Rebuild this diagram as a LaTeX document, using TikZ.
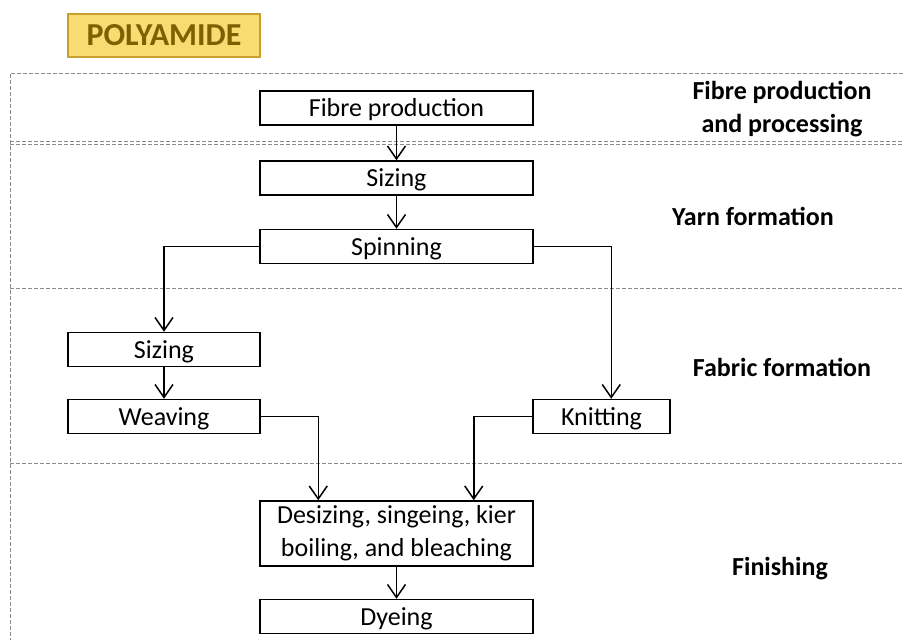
\documentclass[tikz,border=0pt]{standalone}
\usepackage{fontspec}
\setmainfont{Carlito}
\usetikzlibrary{arrows.meta,calc}

\definecolor{titlefill}{HTML}{F8DC72}
\definecolor{titleline}{HTML}{C9A030}
\definecolor{titletext}{HTML}{7F6000}
\definecolor{sectline}{HTML}{8C8C8C}

\begin{document}
\begin{tikzpicture}[x=0.5pt,y=-0.5pt,
	basebox/.style={draw,line width=0.75pt,inner sep=0pt,minimum width=136.5pt,minimum height=17pt,font=\fontsize{13}{16.5}\selectfont},
	stepbox/.style={basebox,text height=9pt,text depth=0.5pt},
	sidebox/.style={stepbox,minimum width=96pt},
	sectlabel/.style={font=\fontsize{13}{16.5}\selectfont\bfseries,align=center},
	sect/.style={sectline,line width=0.5pt,dash pattern=on 2pt off 1pt},
	flow/.style={line width=0.75pt,-{Straight Barb[length=6.5pt,width=9pt,line width=0.75pt]}}]
	\useasboundingbox (0,0) rectangle (904,639);
	% sections
	\draw[sect] (10,660) -- (10,73) -- (920,73);
	\draw[sect] (10,141) -- (920,141);
	\draw[sect] (10,144.5) -- (920,144.5);
	\draw[sect] (10,288) -- (920,288);
	\draw[sect] (10,463) -- (920,463);
	\node[sectlabel] (lfib) at (782,109) {Fibre production\\and processing};
	\node[sectlabel] (lyarn) at (753,216) {Yarn formation};
	\node[sectlabel] (lfab) at (782,367) {Fabric formation};
	\node[sectlabel] (lfin) at (780,569) {Finishing};
	% title
	\node[draw=titleline,fill=titlefill,line width=0.8pt,text=titletext,font=\fontsize{16}{19}\selectfont\bfseries,minimum width=96pt,minimum height=21.5pt,inner sep=0pt] (title) at (164,35.5) {POLYAMIDE};
	% steps
	\node[stepbox] (fib) at (396.5,108) {Fibre production};
	\node[stepbox] (siz) at (396.5,178) {Sizing};
	\node[stepbox] (spin) at (396.5,246.5) {Spinning};
	\node[sidebox] (lsiz) at (164,349.5) {Sizing};
	\node[sidebox] (weave) at (164,416.5) {Weaving};
	\node[stepbox,minimum width=68.5pt] (knit) at (601.5,416.5) {Knitting};
	\node[basebox,minimum height=32.5pt,align=center] (desz) at (396.5,533.5) {Desizing, singeing, kier\\boiling, and bleaching};
	\node[stepbox] (dye) at (396.5,616.5) {Dyeing};
	% connectors
	\draw[flow] (fib) -- (siz);
	\draw[flow] (siz) -- (spin);
	\draw[flow] (spin.west) -| (lsiz.north);
	\draw[flow] (spin.east) -| ($(knit.north west)+(79,0)$);
	\draw[flow] (lsiz) -- (weave);
	\draw[flow] (weave.east) -| ($(desz.north west)+(59,0)$);
	\draw[flow] (knit.west) -| ($(desz.north east)+(-60,0)$);
	\draw[flow] (desz) -- (dye);
\end{tikzpicture}
\end{document}
